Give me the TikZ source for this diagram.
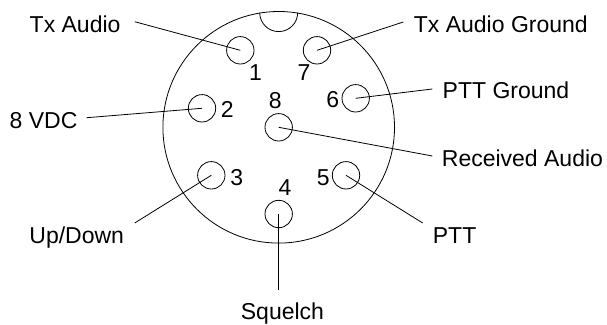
\documentclass[tikz,border=0pt]{standalone}
\usepackage{fontspec}
\setmainfont{Liberation Sans}
\usetikzlibrary{positioning}
\tikzset{pin/.style={circle, draw, minimum size=27.4pt, inner sep=0pt},
	num/.style={font=\fontsize{23}{23}\selectfont, inner sep=0pt, anchor=base},
	lbl/.style={font=\fontsize{23}{23}\selectfont, inner sep=0pt, anchor=base west},
	lead/.style={line width=0.8pt}}

\begin{document}
\begin{tikzpicture}[x=1pt, y=-1pt, line width=0.8pt]
	\useasboundingbox (0, 0) rectangle (607, 324);
	\node[circle, draw, minimum size=231.6pt, inner sep=0pt] (body) at (278.7, 127.3) {};
	\draw (259.7, 12.6) arc[start angle=180, end angle=360, radius=19pt];
	\node[pin] (P1) at (240.3, 50.3) {};
	\node[pin] (P2) at (202, 108.3) {};
	\node[pin] (P3) at (211.3, 175.3) {};
	\node[pin] (P4) at (278.7, 214) {};
	\node[pin] (P5) at (346, 175.3) {};
	\node[pin] (P6) at (355.7, 98.3) {};
	\node[pin] (P7) at (317, 50.3) {};
	\node[pin] (P8) at (278.7, 127.3) {};
	\node[num] (N1) at (255.5, 80) {1};
	\node[num] (N2) at (227.3, 117.3) {2};
	\node[num] (N3) at (236.7, 185) {3};
	\node[num] (N4) at (285, 195) {4};
	\node[num] (N5) at (323.3, 185) {5};
	\node[num] (N6) at (332.7, 107.7) {6};
	\node[num] (N7) at (304, 80) {7};
	\node[num] (N8) at (275.3, 108) {8};
	\node[lbl] (L1) at (29.3, 32) {Tx Audio};
	\node[lbl] (L2) at (9.3, 128) {8 VDC};
	\node[lbl] (L3) at (29, 243) {Up/Down};
	\node[lbl] (L4) at (240.5, 319) {Squelch};
	\node[lbl] (L5) at (432.5, 243) {PTT};
	\node[lbl] (L6) at (442.3, 98.7) {PTT Ground};
	\node[lbl] (L7) at (413.5, 32) {Tx Audio Ground};
	\node[lbl] (L8) at (441.5, 166) {Received Audio};
	\coordinate (E1) at (134.7, 21.7);
	\coordinate (E2) at (86.7, 117.7);
	\coordinate (E3) at (134.7, 223);
	\coordinate (E4) at (278.7, 290.3);
	\coordinate (E5) at (422.7, 223);
	\coordinate (E6) at (432.3, 89);
	\coordinate (E7) at (403.3, 22);
	\coordinate (E8) at (432.3, 156);
	\draw[lead] (P1.center) -- (E1);
	\draw[lead] (P2.center) -- (E2);
	\draw[lead] (P3.center) -- (E3);
	\draw[lead] (P4.center) -- (E4);
	\draw[lead] (P5.center) -- (E5);
	\draw[lead] (P6.center) -- (E6);
	\draw[lead] (P7.center) -- (E7);
	\draw[lead] (P8.center) -- (E8);
\end{tikzpicture}
\end{document}
